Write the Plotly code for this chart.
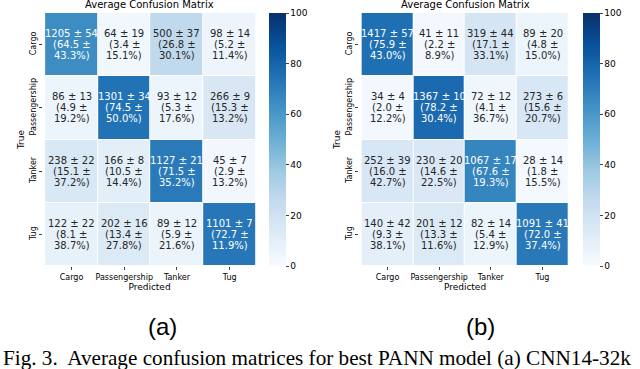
import plotly.graph_objects as go

classes = ["Cargo", "Passengership", "Tanker", "Tug"]

# (a) counts, count std, percent, percent std  (rows = true, cols = predicted)
a_count = [[1205, 64, 500, 98], [86, 1301, 93, 266], [238, 166, 1127, 45], [122, 202, 89, 1101]]
a_count_sd = [[54, 19, 37, 14], [13, 34, 12, 9], [22, 8, 21, 7], [22, 16, 12, 7]]
a_pct = [[64.5, 3.4, 26.8, 5.2], [4.9, 74.5, 5.3, 15.3], [15.1, 10.5, 71.5, 2.9], [8.1, 13.4, 5.9, 72.7]]
a_pct_sd = [[43.3, 15.1, 30.1, 11.4], [19.2, 50.0, 17.6, 13.2], [37.2, 14.4, 35.2, 13.2], [38.7, 27.8, 21.6, 11.9]]

# (b)
b_count = [[1417, 41, 319, 89], [34, 1367, 72, 273], [252, 230, 1067, 28], [140, 201, 82, 1091]]
b_count_sd = [[57, 11, 44, 20], [4, 10, 12, 6], [39, 20, 17, 14], [42, 12, 14, 41]]
b_pct = [[75.9, 2.2, 17.1, 4.8], [2.0, 78.2, 4.1, 15.6], [16.0, 14.6, 67.6, 1.8], [9.3, 13.3, 5.4, 72.0]]
b_pct_sd = [[43.0, 8.9, 33.1, 15.0], [12.2, 30.4, 36.7, 20.7], [42.7, 22.5, 19.3, 15.5], [38.1, 11.6, 12.9, 37.4]]

W, H = 640, 369
FONT = "DejaVu Sans"


def px_x(p):
    return p / W


def px_y(p):
    return 1 - p / H


panels = [
    dict(cnt=a_count, csd=a_count_sd, pct=a_pct, psd=a_pct_sd, x0=43, x1=256, cb=269, lx=162, label="(a)", n=""),
    dict(cnt=b_count, csd=b_count_sd, pct=b_pct, psd=b_pct_sd, x0=359, x1=571, cb=583, lx=480, label="(b)", n="2"),
]
top, bot = 13, 266

fig = go.Figure()
annotations = []
for p in panels:
    fig.add_trace(go.Heatmap(
        z=p["pct"], x=classes, y=classes,
        colorscale="Blues", zmin=0, zmax=100,
        xgap=1, ygap=1,
        xaxis="x" + p["n"], yaxis="y" + p["n"],
        hoverinfo="skip",
        colorbar=dict(
            x=px_x(p["cb"]), xanchor="left", thickness=17, xpad=0, ypad=0,
            len=(bot - top) / H, y=px_y((top + bot) / 2), yanchor="middle",
            outlinewidth=0, ticks="outside", ticklen=3, tickwidth=1,
            tickvals=[0, 20, 40, 60, 80, 100],
            tickfont=dict(family=FONT, size=9, color="black"),
        ),
    ))
    for i, tr in enumerate(classes):
        for j, pr in enumerate(classes):
            lines = [
                f"{p['cnt'][i][j]} ± {p['csd'][i][j]}",
                f"({p['pct'][i][j]:.1f} ±",
                f"{p['psd'][i][j]:.1f}%)",
            ]
            col = "white" if p["pct"][i][j] > 50 else "#262626"
            for k, s in enumerate(lines):
                annotations.append(dict(
                    x=pr, y=tr, xref="x" + p["n"], yref="y" + p["n"],
                    text=s, showarrow=False, yshift=11 - 11 * k,
                    font=dict(family=FONT, size=10, color=col),
                ))
    cx = px_x((p["x0"] + p["x1"]) / 2)
    annotations.append(dict(
        x=cx, y=px_y(5), xref="paper", yref="paper", xanchor="center", yanchor="middle",
        text="Average Confusion Matrix",
        showarrow=False, font=dict(family=FONT, size=10, color="black"),
    ))
    annotations.append(dict(
        x=px_x(p["lx"]), y=px_y(326), xref="paper", yref="paper",
        xanchor="center", yanchor="middle",
        text=p["label"], showarrow=False,
        font=dict(family="Liberation Sans", size=24, color="black"),
    ))

annotations.append(dict(
    x=px_x(1), y=px_y(358), xref="paper", yref="paper", xanchor="left", yanchor="middle",
    text="Fig. 3.  Average confusion matrices for best PANN model (a) CNN14-32k",
    showarrow=False, font=dict(family="Liberation Serif", size=21.2, color="black"),
))

ax_font = dict(family=FONT, size=8, color="black")
layout = dict(
    width=W, height=H, margin=dict(l=0, r=0, t=0, b=0, autoexpand=False),
    paper_bgcolor="white", plot_bgcolor="white",
    annotations=annotations, showlegend=False,
)
for p in panels:
    n = p["n"]
    layout["xaxis" + n] = dict(
        domain=[px_x(p["x0"]), px_x(p["x1"])], anchor="y" + n, automargin=False,
        ticks="outside", ticklen=3, tickfont=ax_font, showgrid=False, zeroline=False,
        title=dict(text="Predicted", font=dict(family=FONT, size=9, color="black"), standoff=0),
    )
    layout["yaxis" + n] = dict(
        domain=[px_y(bot), px_y(top)], anchor="x" + n, autorange="reversed", automargin=False,
        ticks="outside", ticklen=3, tickfont=ax_font, tickangle=-90,
        showgrid=False, zeroline=False,
        title=dict(text="True", font=dict(family=FONT, size=9, color="black"), standoff=2),
    )
fig.update_layout(**layout)
fig.write_html("out.html", config={"displayModeBar": False},
               post_script="document.body.style.margin='0';")
